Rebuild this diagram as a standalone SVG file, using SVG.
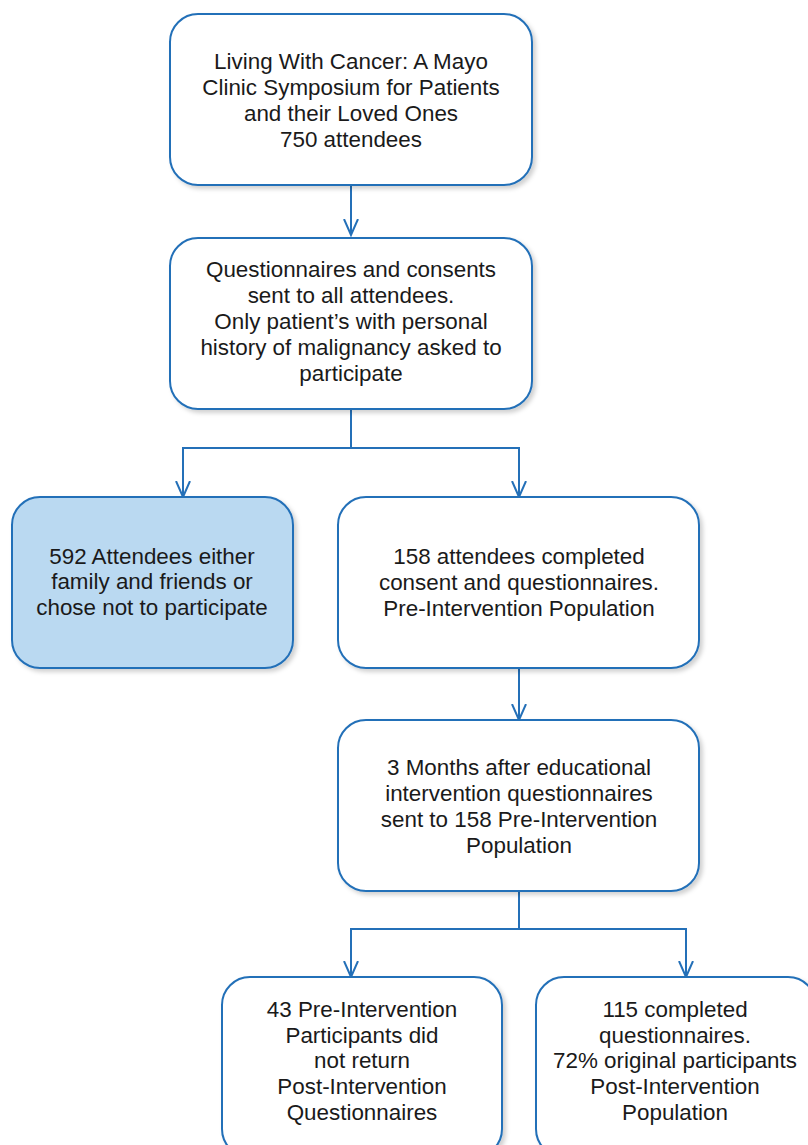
<svg xmlns="http://www.w3.org/2000/svg" width="808" height="1145" viewBox="0 0 808 1145">
<style>
.box{fill:#fff;stroke:#2470B8;stroke-width:2;filter:url(#sh)}
.blue{fill:#BAD9F1}
.t{font-family:"Liberation Sans",Arial,sans-serif;font-size:22.4px;fill:#1a1a1a;text-anchor:middle}
.c{fill:none;stroke:#2470B8;stroke-width:2}
</style>
<defs>
<filter id="sh" x="-10%" y="-10%" width="130%" height="130%">
<feDropShadow dx="3" dy="3" stdDeviation="2" flood-color="#000" flood-opacity="0.18"/>
</filter>
<marker id="ah" markerUnits="userSpaceOnUse" markerWidth="20" markerHeight="20" refX="16" refY="8" orient="auto" viewBox="0 0 20 16">
<path d="M0,1 L16,8 L0,15" fill="none" stroke="#2470B8" stroke-width="2"/>
</marker>
</defs>
<g id="connectors">
<path class="c" d="M351,185 V235" marker-end="url(#ah)"/>
<path class="c" d="M351,409 V448 H183 V497" marker-end="url(#ah)"/>
<path class="c" d="M351,448 H519 V497" marker-end="url(#ah)"/>
<path class="c" d="M519,668 V720" marker-end="url(#ah)"/>
<path class="c" d="M519,891 V929 H351 V977" marker-end="url(#ah)"/>
<path class="c" d="M519,929 H686 V977" marker-end="url(#ah)"/>
</g>
<g id="n1">
<rect class="box" x="170" y="14" width="362" height="171" rx="28"/>
<text class="t" x="351" y="69">Living With Cancer: A Mayo</text>
<text class="t" x="351" y="95">Clinic Symposium for Patients</text>
<text class="t" x="351" y="121">and their Loved Ones</text>
<text class="t" x="351" y="147">750 attendees</text>
</g>
<g id="n2">
<rect class="box" x="170" y="238" width="362" height="171" rx="28"/>
<text class="t" x="351" y="277">Questionnaires and consents</text>
<text class="t" x="351" y="303">sent to all attendees.</text>
<text class="t" x="351" y="329">Only patient’s with personal</text>
<text class="t" x="351" y="355">history of malignancy asked to</text>
<text class="t" x="351" y="381">participate</text>
</g>
<g id="n3">
<rect class="box blue" x="12" y="497" width="281" height="171" rx="28"/>
<text class="t" x="152" y="564">592 Attendees either</text>
<text class="t" x="152" y="589">family and friends or</text>
<text class="t" x="152" y="615">chose not to participate</text>
</g>
<g id="n4">
<rect class="box" x="338" y="497" width="361" height="171" rx="28"/>
<text class="t" x="519" y="564">158 attendees completed</text>
<text class="t" x="519" y="590">consent and questionnaires.</text>
<text class="t" x="519" y="616">Pre-Intervention Population</text>
</g>
<g id="n5">
<rect class="box" x="338" y="720" width="361" height="171" rx="28"/>
<text class="t" x="519" y="775">3 Months after educational</text>
<text class="t" x="519" y="801">intervention questionnaires</text>
<text class="t" x="519" y="827">sent to 158 Pre-Intervention</text>
<text class="t" x="519" y="853">Population</text>
</g>
<g id="n6">
<rect class="box" x="222" y="977" width="280" height="180" rx="28"/>
<text class="t" x="362" y="1017">43 Pre-Intervention</text>
<text class="t" x="362" y="1043">Participants did</text>
<text class="t" x="362" y="1068">not return</text>
<text class="t" x="362" y="1094">Post-Intervention</text>
<text class="t" x="362" y="1120">Questionnaires</text>
</g>
<g id="n7">
<rect class="box" x="536" y="977" width="280" height="180" rx="28"/>
<text class="t" x="675" y="1017">115 completed</text>
<text class="t" x="675" y="1043">questionnaires.</text>
<text class="t" x="675" y="1068">72% original participants</text>
<text class="t" x="675" y="1094">Post-Intervention</text>
<text class="t" x="675" y="1120">Population</text>
</g>
</svg>
